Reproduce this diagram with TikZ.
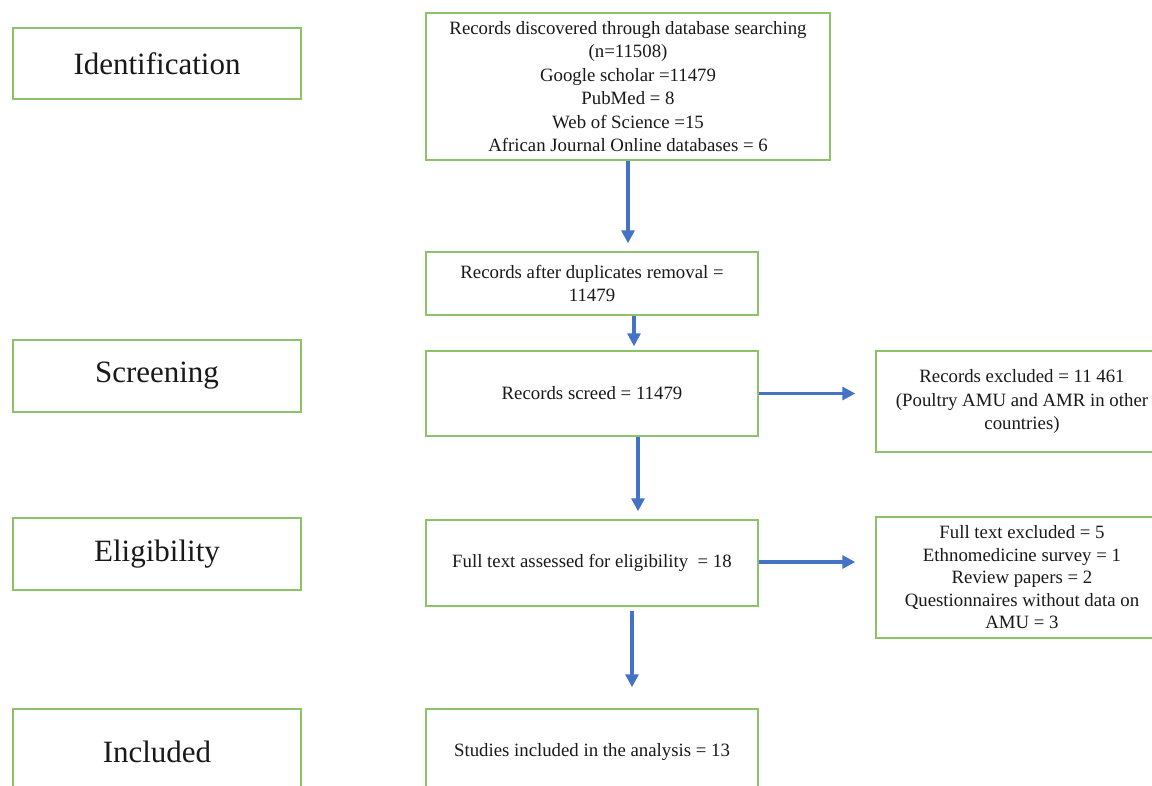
\documentclass[tikz,border=0pt]{standalone}
\usepackage{fontspec}
\setmainfont{Liberation Serif}
\usetikzlibrary{arrows.meta}
\definecolor{boxgreen}{RGB}{140,195,105}
\definecolor{arrblue}{RGB}{68,114,196}
\tikzset{
  gbox/.style={draw=boxgreen, line width=1.5pt, rectangle, inner sep=0pt, align=center, text=black!90},
  stage/.style={gbox, minimum width=288pt, font=\fontsize{31}{36}\selectfont},
  info/.style={gbox, font=\fontsize{18.8}{23.5}\selectfont},
  arr/.style={draw=arrblue, line width=3.2pt, -{Triangle[length=13pt,width=13pt]}}
}
\begin{document}
\begin{tikzpicture}[x=1pt,y=-1pt]
\useasboundingbox (0,0) rectangle (1152,785);
\clip (0,0) rectangle (1152,785);
\fill[white] (0,0) rectangle (1152,785);
% stage labels
\node[stage, minimum height=71pt] (ident) at (157,63.5) {Identification};
\node[stage, minimum height=72pt] (screen) at (157,376) {Screening};
\node[stage, minimum height=72pt] (elig) at (157,554) {Eligibility};
\node[stage, minimum height=86pt] (incl) at (157,752) {Included};
% main column
\node[info, minimum width=404pt, minimum height=147pt] (top) at (628,86.5)
  {Records discovered through database searching\\(n=11508)\\Google scholar =11479\\PubMed = 8\\Web of Science =15\\African Journal Online databases = 6};
\node[info, minimum width=332pt, minimum height=63pt] (dup) at (592,283.5)
  {Records after duplicates removal =\\11479};
\node[info, minimum width=332pt, minimum height=85pt] (scr) at (592,393.5)
  {Records screed = 11479};
\node[info, minimum width=332pt, minimum height=86pt] (full) at (592,563)
  {Full text assessed for eligibility\ \ = 18};
\node[info, minimum width=332pt, minimum height=86pt] (stud) at (592,752)
  {Studies included in the analysis = 13};
% exclusion boxes
\node[info, minimum width=292pt, minimum height=101pt] (exc1) at (1022,401.5)
  {Records excluded = 11 461\\(Poultry AMU and AMR in other\\countries)};
\node[info, minimum width=292pt, minimum height=121pt, font=\fontsize{18.8}{22.5}\selectfont] (exc2) at (1022,577.5)
  {Full text excluded = 5\\Ethnomedicine survey = 1\\Review papers = 2\\Questionnaires without data on\\AMU = 3};
% arrows
\draw[arr] (top.south) -- ([yshift=8pt]dup.north -| top.south);
\draw[arr] ([xshift=42pt]dup.south) -- ([xshift=42pt,yshift=4pt]scr.north);
\draw[arr] ([xshift=46pt]scr.south) -- ([xshift=46pt,yshift=8pt]full.north);
\draw[arr] ([xshift=40pt,yshift=-4pt]full.south) -- ([xshift=40pt,yshift=21pt]stud.north);
\draw[arr] (scr.east) -- ([xshift=-20pt]exc1.west |- scr.east);
\draw[arr] ([yshift=1pt]full.east) -- ([xshift=-20pt,yshift=1pt]exc2.west |- full.east);
\end{tikzpicture}
\end{document}
